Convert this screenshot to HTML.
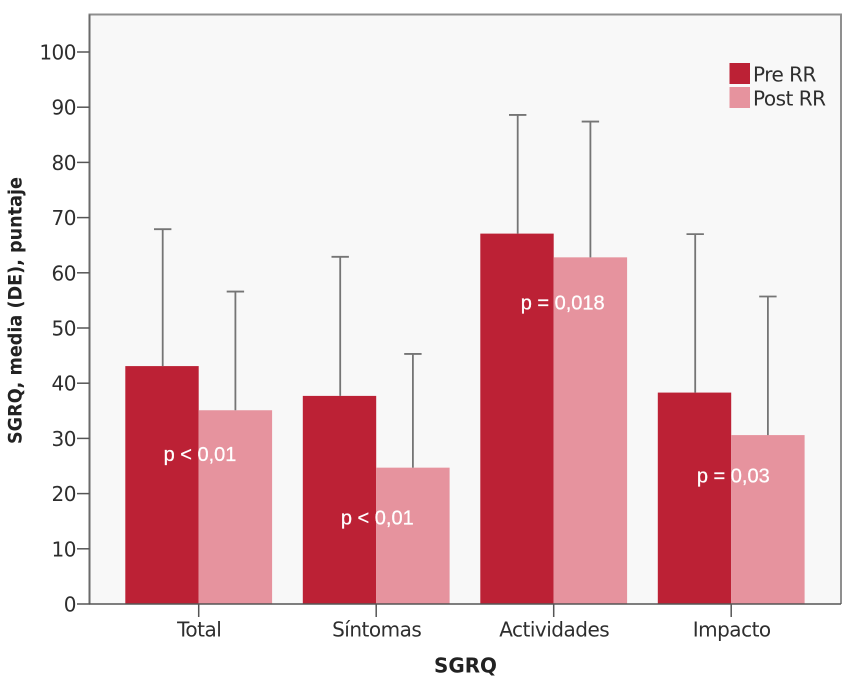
<!DOCTYPE html>
<html lang="es">
<head>
<meta charset="utf-8">
<title>SGRQ Pre RR / Post RR</title>
<style>
html,body{margin:0;padding:0;background:#fff;width:850px;height:684px;overflow:hidden}
svg{display:block;font-family:"DejaVu Sans","Liberation Sans",sans-serif}
.p{font-family:"Liberation Sans",sans-serif;font-size:20px;fill:#fff;stroke:#fff;stroke-width:.25;text-anchor:middle}
</style>
</head>
<body>
<svg id="chart" width="850" height="684" viewBox="0 0 850 684" xmlns="http://www.w3.org/2000/svg">
  <rect x="89.5" y="14.5" width="751.5" height="589.5" fill="#f8f8f8"/>
  <g id="bars"></g>
  <g id="errors"></g>
  <path d="M89.5 604V14.5H841V604" fill="none" stroke="#8f8f8f" stroke-width="2"/>
  <line x1="89.5" y1="14.5" x2="89.5" y2="604.5" stroke="#6a6a6a" stroke-width="2"/>
  <line x1="89" y1="604" x2="841" y2="604" stroke="#555" stroke-width="1.5"/>
  <g id="axes"></g>
  <text class="p" x="200" y="461">p &lt; 0,01</text>
  <text class="p" x="377.3" y="524.3">p &lt; 0,01</text>
  <text class="p" x="562.7" y="309.7">p = 0,018</text>
  <text class="p" x="733.3" y="482.3">p = 0,03</text>
  <text transform="translate(21.5,310.5) rotate(-90)" text-anchor="middle" font-size="19" font-weight="700" fill="#222" textLength="267" lengthAdjust="spacingAndGlyphs">SGRQ, media (DE), puntaje</text>
  <text x="465.5" y="672.5" text-anchor="middle" font-size="20" font-weight="700" fill="#222" textLength="63" lengthAdjust="spacingAndGlyphs">SGRQ</text>
  <g>
    <rect x="729.5" y="63" width="20.5" height="21" fill="#bc2135"/>
    <text x="753" y="81.5" font-size="20" letter-spacing="-0.5" fill="#2e2e2e">Pre RR</text>
    <rect x="729.5" y="87" width="20.5" height="21" fill="#e6939e"/>
    <text x="753" y="105.5" font-size="20" letter-spacing="-0.5" fill="#2e2e2e">Post RR</text>
  </g>
</svg>
<script>
const categories = ['Total', 'Síntomas', 'Actividades', 'Impacto'];
const preValues = [43.1, 37.7, 67.1, 38.3];
const postValues = [35.1, 24.7, 62.8, 30.6];
const preUpper = [67.9, 62.9, 88.6, 67.0];
const postUpper = [56.6, 45.3, 87.4, 55.7];
const yTicks = [0, 10, 20, 30, 40, 50, 60, 70, 80, 90, 100];

const NS = 'http://www.w3.org/2000/svg';
const yScale = v => 604 - v * 5.52;
const xScale = i => 198.7 + i * 177.5;
const BAR_W = 73.4;

function make(tag, parent, attrs, text) {
  const el = document.createElementNS(NS, tag);
  for (const k in attrs) el.setAttribute(k, attrs[k]);
  if (text !== undefined) el.textContent = text;
  parent.appendChild(el);
  return el;
}

const barsG = document.getElementById('bars');
const errG = document.getElementById('errors');
const axesG = document.getElementById('axes');

categories.forEach((cat, i) => {
  const cx = xScale(i);
  const key = cat.toLowerCase();
  [[preValues, preUpper, '#bc2135', -1, 'pre', 0.7], [postValues, postUpper, '#e6939e', 0, 'post', 0]].forEach(s => {
    const x = cx + s[3] * BAR_W;
    const top = yScale(s[0][i]);
    const bar = make('rect', barsG, {x: x, y: top, width: BAR_W, height: yScale(0) - top, fill: s[2]});
    
    
    const ex = x + BAR_W / 2 + s[5];
    const up = yScale(s[1][i]);
    const stem = make('line', errG, {x1: ex, x2: ex, y1: top, y2: up, stroke: '#757575', 'stroke-width': 1.8});
    
    
    const cap = make('line', errG, {x1: ex - 8.7, x2: ex + 8.7, y1: up, y2: up, stroke: '#757575', 'stroke-width': 1.8});
    
    
  });
  const tick = make('line', axesG, {x1: cx, x2: cx, y1: 604, y2: 617, stroke: '#555', 'stroke-width': 1.5});
  
  
  const lab = make('text', axesG, {x: cx + 0.5, y: 636.5, 'text-anchor': 'middle', 'font-size': 20, 'letter-spacing': -0.5, fill: '#2e2e2e'}, cat);
  
  
});

yTicks.forEach(v => {
  const y = yScale(v);
  const t = make('line', axesG, {x1: 77, x2: 89.5, y1: y, y2: y, stroke: '#555', 'stroke-width': 1.5});
  
  
  const l = make('text', axesG, {x: 76, y: y + 7.5, 'text-anchor': 'end', 'font-size': 20, 'letter-spacing': -0.5, fill: '#2e2e2e'}, String(v));
  
  
});
</script>
</body>
</html>
